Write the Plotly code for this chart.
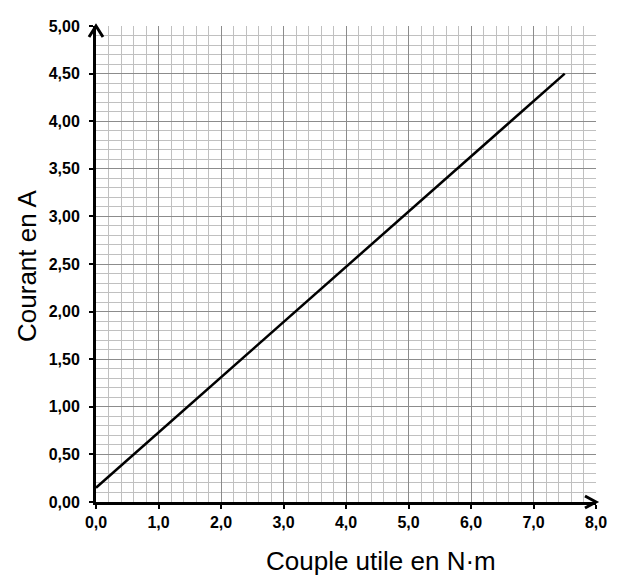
import plotly.graph_objects as go

couple = [0.0, 7.5]
courant = [0.15, 4.5]

x_range = [0, 8]
y_range = [0, 5]

fig = go.Figure()
fig.add_trace(go.Scatter(x=couple, y=courant, mode="lines",
                         line=dict(color="black", width=2.5), hoverinfo="skip"))

tickfont = dict(family="Liberation Sans, Arial", size=16, color="black", weight="bold")
fig.update_layout(
    width=615, height=573,
    margin=dict(l=88, r=27, t=10, b=79),
    paper_bgcolor="white", plot_bgcolor="white",
    showlegend=False,
    separators=", ",
    xaxis=dict(range=x_range, dtick=1, tick0=0, tickformat=".1f",
               showgrid=True, gridcolor="#8c8c8c", gridwidth=1,
               minor=dict(dtick=0.2, tick0=0, showgrid=True, gridcolor="#c0c0c0", gridwidth=1),
               showline=True, linecolor="black", linewidth=3,
               ticks="outside", ticklen=4, tickwidth=2, tickcolor="black",
               tickfont=tickfont, zeroline=False, fixedrange=True),
    yaxis=dict(range=y_range, dtick=0.5, tick0=0, tickformat=".2f",
               showgrid=True, gridcolor="#8c8c8c", gridwidth=1,
               minor=dict(dtick=0.1, tick0=0, showgrid=True, gridcolor="#c0c0c0", gridwidth=1),
               showline=True, linecolor="black", linewidth=3,
               ticks="outside", ticklen=4, tickwidth=2, tickcolor="black",
               ticklabelstandoff=6,
               tickfont=tickfont, zeroline=False, fixedrange=True),
)

# axis arrowheads (chevrons), paper-referenced so they are not clipped
fig.add_shape(type="path", xref="paper", yref="paper", xsizemode="pixel", ysizemode="pixel",
              xanchor=0, yanchor=1, path="M -7,-11 L 0,0 L 7,-11",
              line=dict(color="black", width=3), layer="above")
fig.add_shape(type="path", xref="paper", yref="paper", xsizemode="pixel", ysizemode="pixel",
              xanchor=1, yanchor=0, path="M -11,6 L 0,0 L -11,-6",
              line=dict(color="black", width=3), layer="above")

titlefont = dict(family="Liberation Sans, Arial", size=26, color="black")
fig.add_annotation(text="Couple utile en N·m", xref="paper", yref="paper",
                   x=(381 - 96) / 500, y=-(562 - 502) / 484, showarrow=False,
                   font=titlefont, xanchor="center", yanchor="middle")
fig.add_annotation(text="Courant en A", xref="paper", yref="paper",
                   x=-(96 - 27) / 500, y=(502 - 262) / 484, showarrow=False,
                   font=titlefont, textangle=-90, xanchor="center", yanchor="middle")

fig.write_html("out.html")
